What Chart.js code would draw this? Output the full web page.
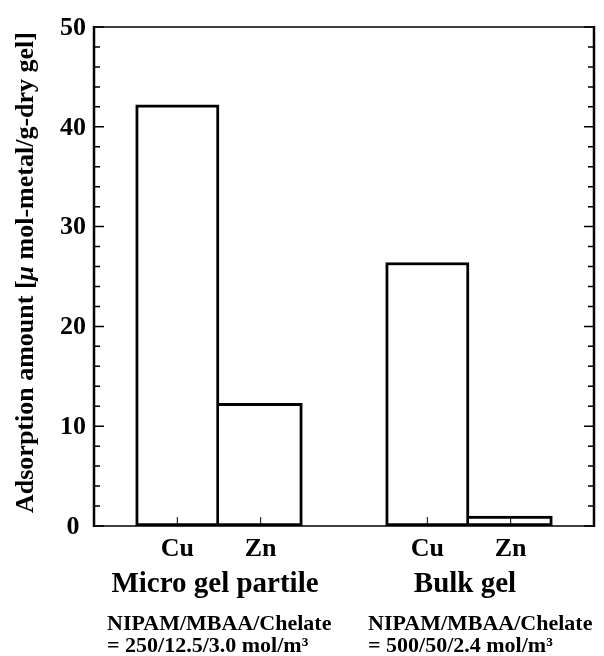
<!DOCTYPE html>
<html>
<head>
<meta charset="utf-8">
<script src="https://cdn.jsdelivr.net/npm/chart.js@4.4.1/dist/chart.umd.min.js"></script>
<style>
  html, body { margin: 0; padding: 0; background: #fff; }
  #wrap { width: 604px; height: 656px; }
</style>
</head>
<body>
<div id="wrap"><canvas id="grafico" width="604" height="656"></canvas></div>
<script>
// datos
const etiquetas = ['', 'Cu', 'Zn', '', 'Cu', 'Zn', ''];
const adsorcion = [null, 42.2, 12.3, null, 26.4, 1.0, null];
const grupos = ['Micro gel partile', 'Bulk gel'];
const gruposIndices = [[1, 2], [4, 5]];
const notasLinea1 = ['NIPAM/MBAA/Chelate', 'NIPAM/MBAA/Chelate'];
const notasLinea2 = ['= 250/12.5/3.0 mol/m³', '= 500/50/2.4 mol/m³'];
const ticksY = [0, 10, 20, 30, 40, 50];
const tituloY = ['Adsorption amount [', 'μ', ' mol-metal/g-dry gel]'];

const fuente = '"Liberation Serif", "Times New Roman", serif';
const ctx = document.getElementById('grafico').getContext('2d');

// bordes: la barra de la derecha no repite la linea compartida
const bordes = adsorcion.map((v, i) => {
    if (v === null) return 0;
    const izq = etiquetas[i - 1] ? 0 : 3;
    return { top: 3, bottom: 3, left: izq, right: 3 };
});

const ejes = {
    id: 'ejes',
    afterDatasetsDraw(chart) {
        const { ctx, chartArea: a, scales: { x, y } } = chart;
        ctx.save();
        ctx.strokeStyle = '#000';
        ctx.fillStyle = '#000';

        // marcas del eje y (izquierda y derecha, hacia dentro)
        ctx.lineWidth = 1.5;
        const maxY = ticksY[ticksY.length - 1];
        for (let v = 0; v <= maxY; v += 2) {
            const py = y.getPixelForValue(v);
            const largo = (v % 10 === 0) ? 10 : 6;
            ctx.beginPath();
            ctx.moveTo(a.left, py); ctx.lineTo(a.left + largo, py);
            ctx.moveTo(a.right, py); ctx.lineTo(a.right - largo, py);
            ctx.stroke();
        }

        // marcas del eje x
        ctx.lineWidth = 1;
        etiquetas.forEach((e, i) => {
            if (!e) return;
            const px = x.getPixelForValue(i);
            ctx.beginPath();
            ctx.moveTo(px, a.bottom); ctx.lineTo(px, a.bottom - 9);
            ctx.stroke();
        });

        // marco: lados gruesos, arriba y abajo algo mas finos
        ctx.lineWidth = 1.5;
        ctx.beginPath();
        ctx.moveTo(a.left, a.top); ctx.lineTo(a.right, a.top);
        ctx.moveTo(a.left, a.bottom); ctx.lineTo(a.right, a.bottom);
        ctx.stroke();
        ctx.lineWidth = 2.5;
        ctx.beginPath();
        ctx.moveTo(a.left, a.top - 1); ctx.lineTo(a.left, a.bottom + 1);
        ctx.moveTo(a.right, a.top - 1); ctx.lineTo(a.right, a.bottom + 1);
        ctx.stroke();

        // numeros del eje y, centrados
        ctx.textAlign = 'center';
        ctx.textBaseline = 'middle';
        ctx.font = `bold 26px ${fuente}`;
        ticksY.forEach(v => {
            ctx.fillText(String(v), 73, y.getPixelForValue(v) + 1);
        });

        // etiquetas Cu / Zn
        ctx.textBaseline = 'alphabetic';
        etiquetas.forEach((e, i) => {
            if (!e) return;
            ctx.fillText(e, x.getPixelForValue(i), 556);
        });

        // nombres de grupo
        ctx.font = `bold 29px ${fuente}`;
        grupos.forEach((g, k) => {
            const [i0, i1] = gruposIndices[k];
            const cx = (x.getPixelForValue(i0) + x.getPixelForValue(i1)) / 2;
            ctx.fillText(g, cx - 4, 592);
        });

        // notas de composicion
        ctx.textAlign = 'left';
        ctx.font = `bold 22px ${fuente}`;
        const notasX = [107, 368];
        notasLinea1.forEach((n, k) => {
            ctx.fillText(n, notasX[k], 630);
            ctx.fillText(notasLinea2[k], notasX[k], 652);
        });

        // titulo del eje y, con la letra griega en cursiva
        const estilos = [`bold 26px ${fuente}`, `italic bold 26px ${fuente}`, `bold 26px ${fuente}`];
        let total = 0;
        const anchos = tituloY.map((t, k) => {
            ctx.font = estilos[k];
            const w = ctx.measureText(t).width;
            total += w;
            return w;
        });
        ctx.translate(26, (a.top + a.bottom) / 2 - 4);
        ctx.rotate(-Math.PI / 2);
        ctx.textBaseline = 'middle';
        let pos = -total / 2;
        tituloY.forEach((t, k) => {
            ctx.font = estilos[k];
            ctx.fillText(t, pos, 0);
            pos += anchos[k];
        });
        ctx.restore();
    }
};

const grafico = new Chart(ctx, {
    type: 'bar',
    data: {
        labels: etiquetas,
        datasets: [{
            data: adsorcion,
            backgroundColor: '#ffffff',
            borderColor: '#000000',
            borderWidth: bordes,
            borderSkipped: false,
            barPercentage: 1,
            categoryPercentage: 1
        }]
    },
    options: {
        responsive: false,
        animation: false,
        layout: { padding: { top: 27, right: 10, left: 0, bottom: 0 } },
        plugins: { legend: { display: false }, tooltip: { enabled: false } },
        scales: {
            x: {
                type: 'category',
                offset: false,
                grid: { display: false, drawTicks: false },
                border: { display: false },
                ticks: { display: false },
                afterFit: s => { s.height = 130; }
            },
            y: {
                min: ticksY[0],
                max: ticksY[ticksY.length - 1],
                afterBuildTicks: s => { s.ticks = ticksY.map(v => ({ value: v })); },
                grid: { display: false, drawTicks: false },
                border: { display: false },
                ticks: { display: false },
                afterFit: s => { s.width = 94; }
            }
        }
    },
    plugins: [ejes]
});
</script>
</body>
</html>
